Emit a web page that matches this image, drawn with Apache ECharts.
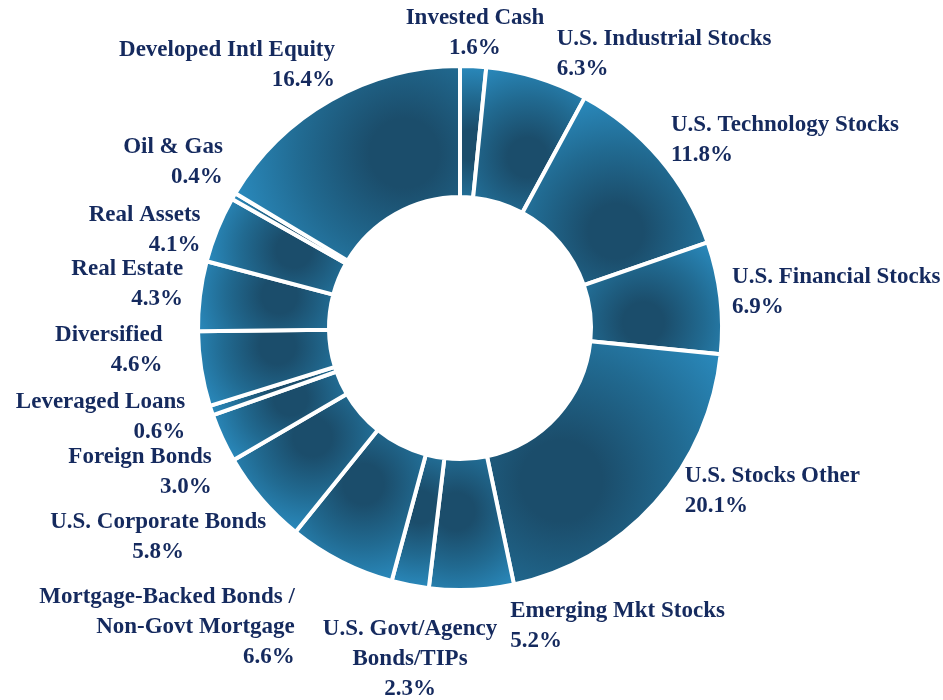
<!DOCTYPE html>
<html>
<head>
<meta charset="utf-8">
<script src="https://cdn.jsdelivr.net/npm/echarts@6/dist/echarts.min.js"></script>
<style>
  html, body { margin: 0; padding: 0; background: #fff; }
  #chart { width: 943px; height: 700px; }
</style>
</head>
<body>
<div id="chart"></div>
<script>
// allocation, clockwise from 12 o'clock
var categories = [
  'Invested Cash', 'U.S. Industrial Stocks', 'U.S. Technology Stocks', 'U.S. Financial Stocks',
  'U.S. Stocks Other', 'Emerging Mkt Stocks', 'U.S. Govt/Agency\nBonds/TIPs',
  'Mortgage-Backed Bonds /\nNon-Govt Mortgage', 'U.S. Corporate Bonds', 'Foreign Bonds',
  'Leveraged Loans', 'Diversified', 'Real Estate', 'Real Assets', 'Oil & Gas', 'Developed Intl Equity'
];
var values = [1.6, 6.3, 11.8, 6.9, 20.1, 5.2, 2.3, 6.6, 5.8, 3.0, 0.6, 4.6, 4.3, 4.1, 0.4, 16.4];

// label placement tweaks (text side + nudge from the slice's outer point)
var labelAlign = ['center', 'left', 'left', 'left', 'left', 'left', 'center', 'right',
                  'center', 'right', 'right', 'right', 'right', 'right', 'right', 'right'];
var labelNudge = [[1, -19], [15, -10], [-1, -10], [-4, -6], [18, -25], [38, 18], [3, 56], [-39, 49],
                  [-91, 26], [4, 25], [-11, -1], [-23, -23], [-1, -12], [-2, 5], [3, -28], [12, -23]];

var cx = 460, cy = 328, rOut = 262, rIn = 131, rLabel = 278;
var light = '#2a8abd', mid = '#216a91', dark = '#1b4d6b';

var chart = echarts.init(document.getElementById('chart'));

function pt(r, a) { return [cx + r * Math.sin(a), cy - r * Math.cos(a)]; }

var total = values.reduce(function(a, b) { return a + b; }, 0);
var acc = 0, mids = [];
var data = values.map(function(v, i) {
  var a0 = acc / total * Math.PI * 2;
  acc += v;
  var a1 = acc / total * Math.PI * 2;
  mids.push((a0 + a1) / 2);
  // shading: dark spot inside the slice, lighter toward the start edge and rim
  var c = pt(rIn + 0.4 * (rOut - rIn), a0 + 0.7 * (a1 - a0));
  var corner = pt(rOut, a0);
  var rad = Math.max(60, Math.hypot(corner[0] - c[0], corner[1] - c[1]));
  return {
    name: categories[i],
    value: v,
    itemStyle: {
      color: new echarts.graphic.RadialGradient(c[0], c[1], rad,
        [{offset: 0, color: dark}, {offset: 0.2, color: dark}, {offset: 0.6, color: mid}, {offset: 1, color: light}], true)
    }
  };
});

chart.setOption({
  animation: false,
  series: [{
    type: 'pie',
    center: [cx, cy],
    radius: [rIn, rOut],
    startAngle: 90,
    clockwise: true,
    avoidLabelOverlap: false,
    itemStyle: { borderColor: '#fff', borderWidth: 4 },
    label: {
      show: true,
      position: 'outside',
      overflow: 'none',
      color: '#152a5e',
      fontFamily: '"Liberation Serif", serif',
      fontWeight: 'bold',
      fontSize: 23,
      lineHeight: 30,
      formatter: function(p) { return p.name + '\n' + p.value.toFixed(1) + '%'; }
    },
    labelLine: { show: false },
    labelLayout: function(p) {
      var i = p.dataIndex, t = mids[i];
      return {
        x: cx + rLabel * Math.sin(t) + labelNudge[i][0],
        y: cy - rLabel * Math.cos(t) + labelNudge[i][1] + 2,
        align: labelAlign[i],
        verticalAlign: 'middle'
      };
    },
    data: data
  }]
});
</script>
</body>
</html>
